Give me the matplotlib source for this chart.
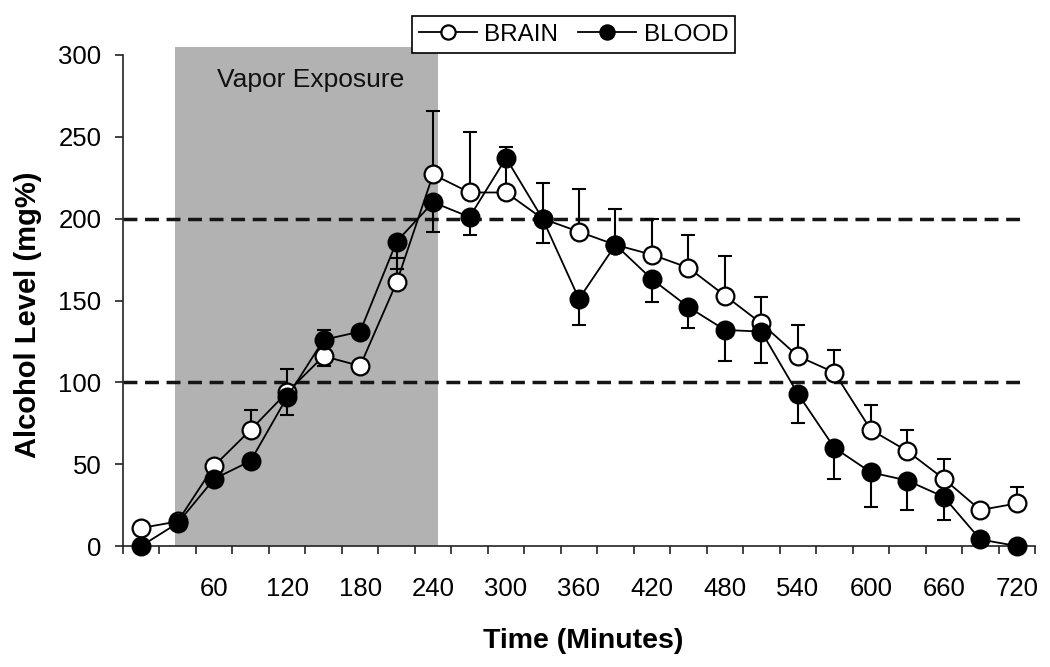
import numpy as np
import matplotlib
matplotlib.use("Agg")
import matplotlib.pyplot as plt
from matplotlib.ticker import FixedLocator

plt.rcParams['font.family'] = ['Liberation Sans', 'DejaVu Sans']

# ---- data ----
time_min = [0, 30, 60, 90, 120, 150, 180, 210, 240, 270, 300, 330, 360,
            390, 420, 450, 480, 510, 540, 570, 600, 630, 660, 690, 720]
brain = [11, 15, 49, 71, 94, 116, 110, 161, 227, 216, 216, 200, 192,
         184, 178, 170, 153, 136, 116, 106, 71, 58, 41, 22, 26]
blood = [0, 14, 41, 52, 91, 126, 131, 186, 210, 201, 237, 200, 151,
         184, 163, 146, 132, 131, 93, 60, 45, 40, 30, 4, 0]
# one-sided error bars (SEM): lower / upper
brain_err_lo = [0, 0, 0, 0, 0, 6, 0, 0, 0, 0, 0, 0, 0,
                0, 0, 0, 0, 0, 0, 0, 0, 0, 0, 0, 0]
brain_err_hi = [0, 0, 0, 12, 14, 0, 0, 15, 39, 37, 20, 22, 26,
                22, 22, 20, 24, 16, 19, 14, 15, 13, 12, 0, 10]
blood_err_lo = [0, 0, 0, 0, 11, 0, 0, 17, 18, 11, 0, 15, 16,
                0, 14, 13, 19, 19, 18, 19, 21, 18, 14, 0, 0]
blood_err_hi = [0, 0, 0, 0, 0, 6, 0, 0, 0, 0, 7, 0, 0,
                0, 0, 0, 0, 0, 0, 0, 0, 0, 0, 0, 0]
x_tick_labels = ['60', '120', '180', '240', '300', '360', '420', '480',
                 '540', '600', '660', '720']
y_ticks = [0, 50, 100, 150, 200, 250, 300]
threshold_levels = [100, 200]
vapor_start, vapor_end = 28, 244
series_names = ['BRAIN', 'BLOOD']

W, H = 1050, 667
fig = plt.figure(figsize=(W / 100, H / 100), dpi=100)
ax = fig.add_axes([123 / W, 1 - 546 / H, 912 / W, 491 / H])
ax.set_xlim(-15, 735)
ax.set_ylim(0, 300)

# vapor exposure shading (extends slightly above the plot top)
ax.axvspan(vapor_start, vapor_end, ymin=0, ymax=(546 - 47) / 491,
           color='#b2b2b2', lw=0, zorder=0, clip_on=False)
ax.text(139, 284.5, 'Vapor Exposure', ha='center', va='center',
        fontsize=19, color='#111111', zorder=1)

# dashed reference lines
ax.hlines(threshold_levels, -15, 725, colors='#151515',
          linestyles=(0, (4.0, 2.2)), lw=2.5, zorder=1)

t = np.array(time_min, dtype=float)


def draw_errors(y, lo, hi, z):
    y = np.array(y, float)
    lo = np.array(lo, float)
    hi = np.array(hi, float)
    m = (lo > 0) | (hi > 0)
    ax.errorbar(t[m], y[m], yerr=[lo[m], hi[m]], fmt='none', ecolor='black',
                elinewidth=1.5, capsize=4.8, capthick=1.5, zorder=z,
                clip_on=False)


draw_errors(brain, brain_err_lo, brain_err_hi, 2)
l1, = ax.plot(t, brain, '-o', color='black', lw=1.3, ms=12.8,
              mfc='white', mec='black', mew=1.6, zorder=3, clip_on=False)
draw_errors(blood, blood_err_lo, blood_err_hi, 4)
l2, = ax.plot(t, blood, '-o', color='black', lw=1.3, ms=12.8,
              mfc='black', mec='black', mew=1.6, zorder=5, clip_on=False)

# axes styling
for s in ['top', 'right']:
    ax.spines[s].set_visible(False)
for s in ['left', 'bottom']:
    ax.spines[s].set_color('#222222')
    ax.spines[s].set_linewidth(1.2)

ax.set_yticks(y_ticks)
ax.tick_params(axis='y', direction='out', length=5.5, width=1.2,
               colors='#222222', labelcolor='black', labelsize=18.5, pad=10)

ax.set_xticks(np.arange(60, 721, 60))
ax.set_xticklabels(x_tick_labels)
ax.xaxis.set_minor_locator(FixedLocator(np.arange(-15, 736, 30)))
ax.tick_params(axis='x', which='major', length=0, labelsize=18.5, pad=22)
ax.tick_params(axis='x', which='minor', direction='out', length=6,
               width=1.2, colors='#222222')

fig.text(583 / W, 1 - 641 / H, 'Time (Minutes)', ha='center', va='center',
         fontsize=20.5, fontweight='bold')
fig.text(28 / W, 1 - 315 / H, 'Alcohol Level (mg%)', ha='center',
         va='center', rotation=90, fontsize=21, fontweight='bold')

leg = fig.legend([l1, l2], series_names, loc='center',
                 bbox_to_anchor=((410 + 737) / 2 / W, 1 - 34.5 / H),
                 ncol=2, fontsize=17.5, frameon=True, fancybox=False,
                 edgecolor='black', framealpha=1, handlelength=2.4,
                 handletextpad=0.3, columnspacing=0.8, borderpad=0.3,
                 markerscale=0.8, borderaxespad=0)
leg.get_frame().set_linewidth(1.2)
leg.set_zorder(10)

fig.savefig('out.png', dpi=100)
